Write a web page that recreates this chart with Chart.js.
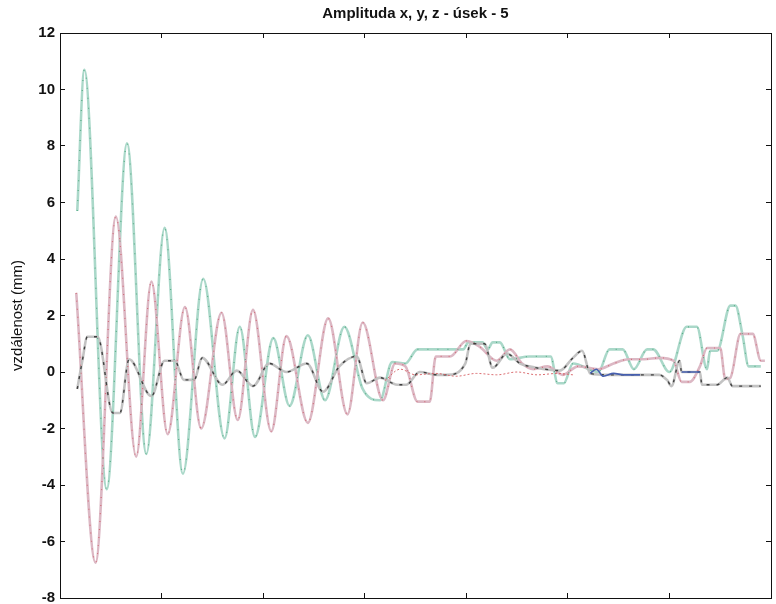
<!DOCTYPE html>
<html>
<head>
<meta charset="utf-8">
<script src="https://cdn.jsdelivr.net/npm/chart.js@4.4.1/dist/chart.umd.min.js"></script>
<style>
  html, body { margin: 0; padding: 0; background: #fff; overflow: hidden; height: 604px; }
</style>
</head>
<body>
<canvas id="amplitudeChart" width="776" height="617"></canvas>
<script>
// x in samples (0..700), y in mm
const tealX = [17, 24, 46, 66, 85, 103, 121, 141, 162, 177, 192, 210, 226, 244, 261, 280, 298, 315, 327, 340, 352, 397, 402, 416, 421, 426, 433, 443, 462, 483, 490, 496, 505, 530, 541, 554, 565, 578, 584, 600, 617, 627, 637, 640, 647, 660, 665, 672, 678, 690];
const tealY = [5.7, 10.7, -4.15, 8.1, -2.9, 5.1, -3.6, 3.3, -2.35, 1.6, -2.3, 1.2, -1.2, 1.3, -1.0, 1.6, -0.6, -1.0, 0.35, 0.3, 0.8, 0.8, 1.05, 1.05, 0.8, 1.05, 1.05, 0.45, 0.55, 0.55, -0.4, -0.4, 0.3, 0.0, 0.8, 0.8, 0.1, 0.8, 0.8, 0.0, 1.6, 1.6, 0.1, 0.75, 0.75, 2.35, 2.35, 1.3, 0.2, 0.2];

const pinkX = [16, 35, 55, 75, 90, 106, 123, 139, 159, 175, 190, 208, 223, 244, 264, 283, 298, 318, 330, 340, 352, 364, 370, 384, 400, 413, 430, 443, 455, 466, 480, 495, 510, 530, 545, 560, 575, 590, 604, 612, 620, 630, 637, 650, 655, 660, 670, 682, 690, 694];
const pinkY = [2.8, -6.75, 5.5, -3.0, 3.2, -2.2, 2.3, -2.0, 2.1, -1.7, 2.2, -2.1, 1.27, -1.8, 1.9, -1.5, 1.75, -1.0, 0.3, 0.2, -1.05, -1.05, 0.55, 0.55, 1.1, 0.9, 0.4, 0.8, 0.3, 0.1, 0.2, -0.1, 0.2, 0.1, 0.3, 0.45, 0.45, 0.5, 0.4, -0.35, -0.35, 0.2, 0.85, 0.85, -0.25, -0.2, 1.35, 1.35, 0.4, 0.4];

const greyX = [17, 22, 27, 37, 52, 59, 68, 90, 103, 113, 122, 132, 140, 160, 174, 190, 206, 223, 243, 259, 275, 292, 302, 315, 332, 341, 354, 371, 381, 399, 404, 418, 426, 440, 453, 462, 477, 492, 505, 514, 522, 540, 571, 590, 598, 602, 610, 612, 630, 632, 647, 657, 662, 690];
const greyY = [-0.6, 0.4, 1.25, 1.25, -1.45, -1.45, 0.45, -0.85, 0.4, 0.4, -0.28, -0.28, 0.5, -0.45, 0.05, -0.5, 0.3, 0.0, 0.3, -0.7, 0.2, 0.55, -0.4, -0.2, -0.45, -0.45, 0.0, -0.1, -0.1, 0.3, 1.0, 1.0, 0.15, 0.65, 0.3, 0.2, 0.1, 0.05, 0.5, 0.75, -0.05, -0.1, -0.1, -0.1, -0.3, -0.5, 0.4, 0.0, 0.0, -0.45, -0.45, -0.2, -0.5, -0.5];

const redX = [320, 335, 350, 370, 390, 410, 430, 450, 470, 490, 505];
const redY = [-0.3, 0.1, -0.1, -0.05, -0.15, -0.05, -0.1, 0.0, -0.1, -0.05, -0.1];

const blueX = [522, 528, 535, 545, 555, 571, null, 612, 630];
const blueY = [-0.05, 0.1, -0.15, -0.05, -0.1, -0.1, null, 0.0, 0.0];

const yTicks = [-8, -6, -4, -2, 0, 2, 4, 6, 8, 10, 12];

function toPoints(xs, ys) {
  return xs.map((x, i) => x === null ? { x: NaN, y: null } : { x: x, y: ys[i] });
}

// lower order = drawn later (on top)
function line(points, color, width, order, dash) {
  return {
    data: points,
    borderColor: color,
    borderWidth: width,
    borderDash: dash || [],
    order: order,
    pointRadius: 0,
    fill: false,
    cubicInterpolationMode: 'monotone',
    spanGaps: false
  };
}

const data = {
  datasets: [
    line(toPoints(tealX, tealY), 'rgba(165,214,198,0.95)', 2.6, 8),
    line(toPoints(pinkX, pinkY), 'rgba(218,180,193,0.95)', 2.6, 7),
    line(toPoints(greyX, greyY), 'rgba(192,192,192,0.95)', 2.6, 6),
    line(toPoints(tealX, tealY), 'rgba(30,140,85,0.55)', 1.2, 4, [1, 9]),
    line(toPoints(pinkX, pinkY), 'rgba(200,55,65,0.55)', 1.2, 3, [1, 7]),
    line(toPoints(greyX, greyY), 'rgba(20,20,20,0.75)', 1.4, 2, [3, 7]),
    line(toPoints(redX, redY), 'rgba(215,95,100,0.9)', 1, 1, [2, 2]),
    line(toPoints(blueX, blueY), 'rgb(70,95,175)', 1.6, 0)
  ]
};

const inwardGrid = {
  drawOnChartArea: false,
  drawTicks: true,
  tickLength: -5,
  color: '#111',
  lineWidth: 1
};
const axisBorder = { display: true, color: '#111', width: 1 };
const fontFamily = 'Liberation Sans, Arial, sans-serif';

const config = {
  type: 'line',
  data: data,
  options: {
    responsive: false,
    animation: false,
    layout: { padding: { left: 0, right: 5, top: 0, bottom: 5 } },
    plugins: {
      legend: { display: false },
      tooltip: { enabled: false },
      title: {
        display: true,
        fullSize: false,
        text: 'Amplituda x, y, z - úsek - 5',
        color: '#111',
        font: { family: fontFamily, size: 15, weight: 'bold' },
        padding: { top: 5, bottom: 10 }
      }
    },
    scales: {
      x: {
        type: 'linear',
        position: 'bottom',
        min: 0,
        max: 700,
        ticks: { display: false, stepSize: 100 },
        grid: inwardGrid,
        border: axisBorder,
        afterFit: s => { s.height = 0; }
      },
      xTop: {
        type: 'linear',
        position: 'top',
        min: 0,
        max: 700,
        ticks: { display: false, stepSize: 100 },
        grid: inwardGrid,
        border: axisBorder,
        afterFit: s => { s.height = 0; }
      },
      y: {
        type: 'linear',
        position: 'left',
        min: -8,
        max: 12,
        afterBuildTicks: s => { s.ticks = yTicks.map(v => ({ value: v })); },
        ticks: {
          padding: 10,
          color: '#111',
          font: { family: fontFamily, size: 15, weight: 'bold' }
        },
        grid: inwardGrid,
        border: axisBorder,
        title: {
          display: true,
          text: 'vzdálenost (mm)',
          color: '#111',
          font: { family: fontFamily, size: 15 },
          padding: { top: 9, bottom: 0 }
        },
        afterFit: s => { s.width = 60; }
      },
      yRight: {
        type: 'linear',
        position: 'right',
        min: -8,
        max: 12,
        afterBuildTicks: s => { s.ticks = yTicks.map(v => ({ value: v })); },
        ticks: { display: false },
        grid: inwardGrid,
        border: axisBorder,
        afterFit: s => { s.width = 0; }
      }
    }
  }
};

const amplitudeChart = new Chart(document.getElementById('amplitudeChart'), config);
</script>
</body>
</html>
